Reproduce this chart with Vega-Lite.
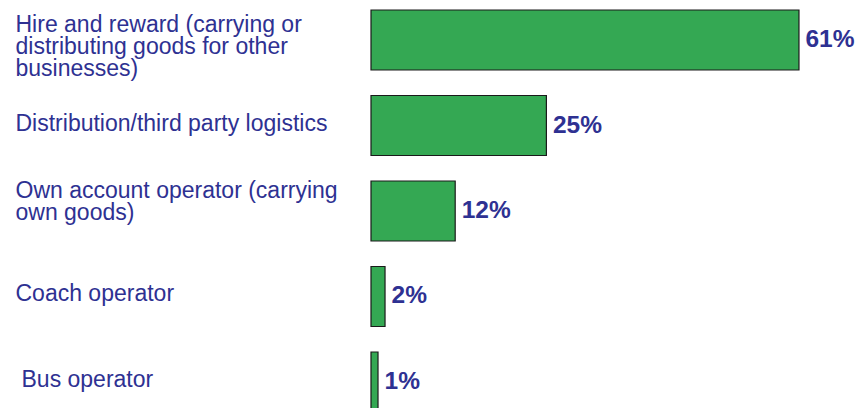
{
  "$schema": "https://vega.github.io/schema/vega-lite/v6.json",
  "autosize": "none",
  "padding": {"left": 371, "top": 0, "right": 0, "bottom": 0},
  "width": 486,
  "height": 422,
  "background": "white",
  "config": {"view": {"stroke": null}},
  "data": {
    "values": [
      {"category": "Hire and reward (carrying or|distributing goods for other|businesses)", "value": 61, "label": "61%"},
      {"category": "Distribution/third party logistics", "value": 25, "label": "25%"},
      {"category": "Own account operator (carrying|own goods)", "value": 12, "label": "12%"},
      {"category": "Coach operator", "value": 2, "label": "2%"},
      {"category": "Bus operator", "value": 1, "label": "1%"}
    ]
  },
  "encoding": {
    "y": {
      "field": "category",
      "type": "nominal",
      "sort": null,
      "scale": {"paddingInner": 0.298, "paddingOuter": 0.117},
      "axis": {
        "title": null,
        "domain": false,
        "ticks": false,
        "tickSize": 0,
        "labelPadding": {
          "condition": {"test": "datum.value === 'Bus operator'", "value": 350},
          "value": 356
        },
        "labelAlign": "left",
        "labelBaseline": "middle",
        "labelFont": "Liberation Sans",
        "labelFontSize": 23,
        "labelLineHeight": 22,
        "labelColor": "#2e3192",
        "labelLimit": 0,
        "labelOffset": {
          "condition": [
            {"test": "indexof(datum.value, 'Hire') >= 0", "value": -15},
            {"test": "indexof(datum.value, 'Own account') >= 0", "value": -20}
          ],
          "value": -2
        },
        "labelExpr": "split(datum.label, '|')"
      }
    },
    "x": {
      "field": "value",
      "type": "quantitative",
      "scale": {"domain": [0, 69.27], "nice": false, "zero": true},
      "axis": null
    }
  },
  "layer": [
    {
      "mark": {"type": "bar", "color": "#34a853", "stroke": "#1a1a1a", "strokeWidth": 1.2}
    },
    {
      "mark": {"type": "text", "align": "left", "baseline": "middle", "dx": 6.5, "font": "Liberation Sans", "fontSize": 24.5, "fontWeight": "bold", "color": "#2e3192"},
      "encoding": {"text": {"field": "label"}}
    }
  ]
}
